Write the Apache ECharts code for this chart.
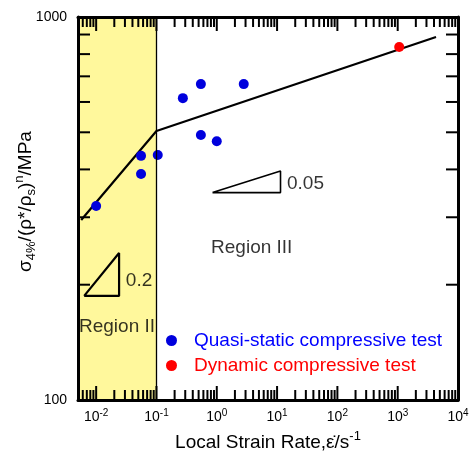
<!DOCTYPE html>
<html>
<head>
<meta charset="utf-8">
<script src="https://cdn.jsdelivr.net/npm/echarts@6/dist/echarts.min.js"></script>
<style>html,body{margin:0;padding:0;background:#fff}#c{width:471px;height:451px}</style>
</head>
<body>
<div id="c"></div>
<script>
// ---- data ----
var quasiStatic = [
  [0.01, 321], [0.0555, 434], [0.0555, 389], [0.105, 436],
  [0.274, 614], [0.545, 668], [0.545, 492], [1.0, 474], [2.8, 668]
];
var dynamic = [[1060, 835]];
var fitLine = [[0.00565, 295], [0.1, 504], [4320, 887]];
var slopeTri02 = [[0.00633, 187], [0.024, 187], [0.024, 242], [0.00633, 187]];
var slopeTri005 = [[0.85, 348], [11.4, 348], [11.4, 396], [0.85, 348]];
var regionIIBounds = [0.005, 0.1];
var xRange = [0.005, 10000];
var yRange = [100, 1000];
var xTickValues = [0.01, 0.1, 1, 10, 100, 1000, 10000];
var yTickValues = [100, 1000];
var yMinorTickValues = [200, 300, 400, 500, 600, 700, 800, 900];
var textNotes = [
  {text: '0.2', at: [0.0514, 205]},
  {text: '0.05', at: [29.6, 366]},
  {text: 'Region II', at: [0.0222, 155]},
  {text: 'Region III', at: [3.8, 250]}
];

var FONT = 'Liberation Sans, Arial, sans-serif';
var chart = echarts.init(document.getElementById('c'), null, {renderer: 'canvas'});

function xLabel(v) {
  var e = Math.round(Math.log10(v));
  return '10{sup|' + e + '}';
}

// x minor tick values: 2..9 x 10^k inside the axis range
var xMinorTickValues = [];
for (var k = -3; k <= 4; k++) {
  for (var m = 2; m <= 9; m++) {
    var mv = m * Math.pow(10, k);
    if (mv > xRange[0] && mv < xRange[1]) xMinorTickValues.push(mv);
  }
}

// inward tick marks as small rect symbols placed by the axes' scales
function xTickData(values, len) {
  var out = [];
  values.forEach(function (v) {
    out.push({value: [v, yRange[0]], symbolOffset: [0, -len / 2]});
    out.push({value: [v, yRange[1]], symbolOffset: [0, len / 2]});
  });
  return out;
}
function yTickData(values, len) {
  var out = [];
  values.forEach(function (v) {
    out.push({value: [xRange[0], v], symbolOffset: [len / 2, 0]});
    out.push({value: [xRange[1], v], symbolOffset: [-len / 2, 0]});
  });
  return out;
}
function tickSeries(name, data, size) {
  return {
    type: 'scatter', name: name, data: data, symbol: 'rect', symbolSize: size,
    itemStyle: {color: '#000', opacity: 1}, silent: true, clip: false, z: 12,
    emphasis: {disabled: true}
  };
}

function xAxisOpt(pos, showLabel) {
  return {
    type: 'log', logBase: 10, z: 10, position: pos, min: xRange[0], max: xRange[1],
    axisLine: {show: true, onZero: false, lineStyle: {color: '#000', width: 3}},
    axisTick: {show: false}, splitLine: {show: false}, minorTick: {show: false},
    axisLabel: {show: showLabel, customValues: xTickValues.slice(), margin: 8, fontFamily: FONT, fontSize: 14, color: '#000',
      formatter: xLabel,
      rich: {sup: {fontSize: 10, fontFamily: FONT, color: '#000', padding: [0, 0, 9, 0]}}}
  };
}
function yAxisOpt(pos, showLabel) {
  return {
    type: 'log', logBase: 10, z: 10, position: pos, min: yRange[0], max: yRange[1],
    axisLine: {show: true, onZero: false, lineStyle: {color: '#000', width: 3}},
    axisTick: {show: false}, splitLine: {show: false}, minorTick: {show: false},
    axisLabel: {show: showLabel, customValues: yTickValues.slice(), margin: 11, fontFamily: FONT, fontSize: 14, color: '#000',
      formatter: function (v) { return String(Math.round(v)); }}
  };
}

var xb = xAxisOpt('bottom', true);
xb.name = 'Local Strain Rate,ε̇/s{sup|-1}';
xb.nameLocation = 'middle';
xb.nameGap = 30;
xb.nameTextStyle = {fontFamily: FONT, fontSize: 19, color: '#000',
  rich: {sup: {fontSize: 13, fontFamily: FONT, color: '#000', padding: [0, 0, 12, 0]}}};

var yl = yAxisOpt('left', true);
yl.name = '{b|σ}{sub|4%}{b|/(ρ*/ρ}{sub|s}{b|)}{sup|n}{b|/MPa}';
yl.nameLocation = 'middle';
yl.nameMoveOverlap = false;
yl.nameGap = 40;
yl.nameRotate = 90;
yl.nameTextStyle = {fontFamily: FONT, color: '#000', padding: [0, 0, 0, 14],
  rich: {
    b: {fontSize: 19, fontFamily: FONT, color: '#000'},
    sub: {fontSize: 13, fontFamily: FONT, color: '#000', padding: [11, 0, 0, 0]},
    sup: {fontSize: 13, fontFamily: FONT, color: '#000', padding: [0, 0, 12, 0]}
  }};

var option = {
  backgroundColor: '#fff',
  animation: false,
  textStyle: {fontFamily: FONT},
  grid: {left: 78, right: 13, top: 17, bottom: 51, containLabel: false, outerBoundsMode: 'none'},
  legend: {
    orient: 'vertical', left: 161, top: 326, itemGap: 6,
    itemWidth: 11, itemHeight: 11, icon: 'circle',
    data: [
      {name: 'Quasi-static compressive test', textStyle: {color: '#0000ff'}},
      {name: 'Dynamic compressive test', textStyle: {color: '#ff0000'}}
    ],
    textStyle: {fontFamily: FONT, fontSize: 19, padding: [0, 0, 0, 12]}
  },
  xAxis: [xb, xAxisOpt('top', false)],
  yAxis: [yl, yAxisOpt('right', false)],
  series: [
    {
      type: 'line', name: 'regionII', data: [], silent: true,
      markArea: {silent: true, itemStyle: {color: '#fff89c'},
        data: [[{xAxis: regionIIBounds[0]}, {xAxis: regionIIBounds[1]}]]},
      markLine: {silent: true, symbol: 'none', label: {show: false},
        lineStyle: {color: '#000', width: 1.3, type: 'solid'},
        data: [{xAxis: regionIIBounds[1]}]}
    },
    {
      type: 'line', name: 'fit', data: fitLine, showSymbol: false, symbol: 'none',
      lineStyle: {color: '#000', width: 2.2}, silent: true, z: 3
    },
    {
      type: 'line', name: 'tri02', data: slopeTri02, symbol: 'none',
      lineStyle: {color: '#000', width: 2.2}, silent: true, z: 3
    },
    {
      type: 'line', name: 'tri005', data: slopeTri005, symbol: 'none',
      lineStyle: {color: '#000', width: 1.6}, silent: true, z: 3
    },
    {
      type: 'scatter', name: 'Quasi-static compressive test', data: quasiStatic,
      symbolSize: 10, itemStyle: {color: '#0000dd', opacity: 1}, z: 4
    },
    {
      type: 'scatter', name: 'Dynamic compressive test', data: dynamic,
      symbolSize: 10, itemStyle: {color: '#ff0000', opacity: 1}, z: 4
    },
    {
      type: 'scatter', name: 'notes', symbolSize: 0, silent: true, z: 5,
      data: textNotes.map(function (d) { return {value: d.at, name: d.text}; }),
      label: {show: true, position: 'inside', formatter: '{b}', fontFamily: FONT, fontSize: 19, color: '#000'}
    },
    tickSeries('xMajorTicks', xTickData(xTickValues, 14), [2, 14]),
    tickSeries('xMinorTicks', xTickData(xMinorTickValues, 10), [2, 10]),
    tickSeries('yMinorTicks', yTickData(yMinorTickValues, 12), [12, 2])
  ]
};
chart.setOption(option);
</script>
</body>
</html>
